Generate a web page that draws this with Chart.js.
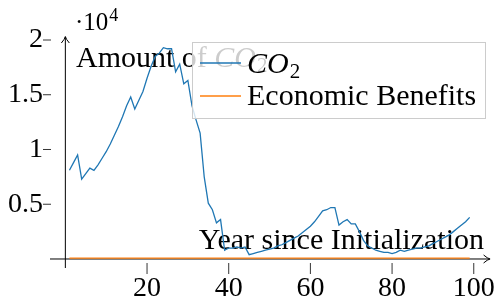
<!DOCTYPE html>
<html><head><meta charset="utf-8">
<script src="https://cdn.jsdelivr.net/npm/chart.js@4/dist/chart.umd.min.js"></script>
<style>html,body{margin:0;padding:0;background:#fff}#wrap{width:499px;height:307px}</style>
</head><body><div id="wrap"><canvas id="c" width="499" height="307"></canvas></div>
<script>
// ---- data ----
const years = [];
for (let i = 1; i <= 99; i++) years.push(i);
const co2 = [8100,8800,9500,7300,7800,8300,8100,8600,9200,9800,
  10500,11300,12100,13000,14000,14800,13700,14500,15300,16500,
  17600,18500,18800,19300,19200,19200,17100,17800,16000,16300,
  14000,12700,11500,7500,5100,4500,3300,3600,800,1000,
  1000,1100,1000,1100,400,500,600,700,800,900,
  1000,1200,1300,1500,1700,1900,2100,2400,2700,3000,
  3400,3900,4400,4500,4700,4700,3100,3400,3600,3200,
  3200,2500,1700,1200,1000,800,700,600,600,500,
  600,800,700,800,900,1000,1000,1100,1200,1400,
  1600,1800,2000,2200,2500,2800,3100,3400,3800];
const econ = [80,80,80,80,80,80,80,80,80,80,80,80,80,80,80,80,80,80,80,80,
  80,80,80,80,80,80,80,80,80,80,80,80,80,80,80,80,80,80,80,80,
  80,80,80,80,80,80,80,80,80,80,80,80,80,80,80,80,80,80,80,80,
  80,80,80,80,80,80,80,80,80,80,80,80,80,80,80,80,80,80,80,80,
  80,80,80,80,80,80,80,80,80,80,80,80,80,80,80,80,80,80,80];
const xTicks = [20, 40, 60, 80, 100];
const yTicks = [5000, 10000, 15000, 20000];
const seriesLabels = ['CO2', 'Economic Benefits'];
const seriesColors = ['#1f77b4', '#ff7f0e'];
const xTitle = 'Year since Initialization';
const yTitle = 'Amount of ';

const SERIF = '"Liberation Serif", "DejaVu Serif", serif';
const TXT = 30;

function drawCO2(ctx, x, y, size) {
  ctx.font = 'italic ' + size + 'px ' + SERIF;
  ctx.fillText('CO', x, y);
  const w = ctx.measureText('CO').width;
  ctx.font = Math.round(size * 0.7) + 'px ' + SERIF;
  ctx.fillText('2', x + w + 1, y + size * 0.16);
}

const deco = {
  id: 'deco',
  beforeDatasetsDraw(chart) {
    const {ctx, chartArea: a, scales: {x, y}} = chart;
    const x0 = x.getPixelForValue(0), y0 = y.getPixelForValue(0);
    ctx.save();
    ctx.fillStyle = '#000';
    ctx.textBaseline = 'alphabetic';
    // multiplier
    ctx.textAlign = 'left';
    ctx.font = '25px ' + SERIF;
    ctx.fillText('\u00B710', 75, 30);
    const mw = ctx.measureText('\u00B710').width;
    ctx.font = '18px ' + SERIF;
    ctx.fillText('4', 75 + mw + 1, 21);
    // y title
    ctx.font = TXT + 'px ' + SERIF;
    ctx.fillText(yTitle, 76, 67);
    const tw = ctx.measureText(yTitle).width;
    drawCO2(ctx, 76 + tw, 67, TXT);
    // x title
    ctx.font = TXT + 'px ' + SERIF;
    ctx.textAlign = 'right';
    ctx.fillText(xTitle, 484, 249);
    // axes
    ctx.strokeStyle = '#000';
    ctx.lineWidth = 1;
    ctx.beginPath();
    ctx.moveTo(a.left, y0); ctx.lineTo(a.right + 4, y0);
    ctx.moveTo(x0, a.bottom); ctx.lineTo(x0, a.top - 3);
    ctx.stroke();
    // arrow heads
    ctx.beginPath();
    ctx.moveTo(a.right - 2, y0 - 4); ctx.quadraticCurveTo(a.right + 2, y0 - 0.5, a.right + 4.5, y0);
    ctx.quadraticCurveTo(a.right + 2, y0 + 0.5, a.right - 2, y0 + 4);
    ctx.moveTo(x0 - 4, a.top + 3); ctx.quadraticCurveTo(x0 - 0.5, a.top - 1, x0, a.top - 3.5);
    ctx.quadraticCurveTo(x0 + 0.5, a.top - 1, x0 + 4, a.top + 3);
    ctx.stroke();
    // ticks
    ctx.lineWidth = 0.8;
    ctx.beginPath();
    xTicks.forEach(v => { const px = x.getPixelForValue(v); ctx.moveTo(px, a.bottom - 5); ctx.lineTo(px, a.bottom + 6); });
    yTicks.forEach(v => { const py = y.getPixelForValue(v); ctx.moveTo(a.left - 7, py); ctx.lineTo(a.left + 1, py); });
    ctx.stroke();
    ctx.restore();
  },
  afterDraw(chart) {
    const {ctx} = chart;
    ctx.save();
    ctx.fillStyle = 'rgba(255,255,255,0.8)';
    ctx.strokeStyle = '#cccccc';
    ctx.lineWidth = 1;
    ctx.fillRect(192.5, 42.5, 293, 76);
    ctx.strokeRect(192.5, 42.5, 293, 76);
    const rows = [63, 96];
    chart.data.datasets.forEach((ds, i) => {
      ctx.strokeStyle = ds.borderColor;
      ctx.lineWidth = 1.3;
      ctx.beginPath();
      ctx.moveTo(200, rows[i]); ctx.lineTo(241, rows[i]);
      ctx.stroke();
      ctx.fillStyle = '#000';
      ctx.textAlign = 'left';
      ctx.textBaseline = 'alphabetic';
      if (ds.label === 'CO2') drawCO2(ctx, 247, rows[i] + 10, TXT);
      else { ctx.font = TXT + 'px ' + SERIF; ctx.fillText(ds.label, 247, rows[i] + 9); }
    });
    ctx.restore();
  }
};

new Chart(document.getElementById('c'), {
  type: 'line',
  data: {
    labels: years,
    datasets: [
      {label: seriesLabels[0], data: years.map((v, i) => ({x: v, y: co2[i]})), borderColor: seriesColors[0], borderWidth: 1.3, pointRadius: 0, tension: 0, fill: false},
      {label: seriesLabels[1], data: years.map((v, i) => ({x: v, y: econ[i]})), borderColor: seriesColors[1], borderWidth: 1.3, pointRadius: 0, tension: 0, fill: false}
    ]
  },
  options: {
    responsive: false,
    animation: false,
    devicePixelRatio: 1,
    layout: {padding: {top: 40, right: 9, left: 0, bottom: 0}},
    plugins: {legend: {display: false}, tooltip: {enabled: false}},
    scales: {
      x: {
        type: 'linear', min: -3.76, max: 102.9,
        afterBuildTicks: s => { s.ticks = xTicks.map(v => ({value: v})); },
        afterFit: s => { s.height = 39; },
        grid: {display: false, drawTicks: false}, border: {display: false},
        ticks: {color: '#000', font: {family: SERIF, size: 28, lineHeight: 1.2}, padding: 4, maxRotation: 0, autoSkip: false,
          callback: v => String(v)}
      },
      y: {
        type: 'linear', min: -822, max: 20000,
        afterBuildTicks: s => { s.ticks = yTicks.map(v => ({value: v})); },
        afterFit: s => { s.width = 50; },
        grid: {display: false, drawTicks: false}, border: {display: false},
        ticks: {color: '#000', font: {family: SERIF, size: 28, lineHeight: 1.2}, padding: 7, autoSkip: false,
          callback: v => String(v / 10000)}
      }
    }
  },
  plugins: [deco]
});
</script></body></html>
